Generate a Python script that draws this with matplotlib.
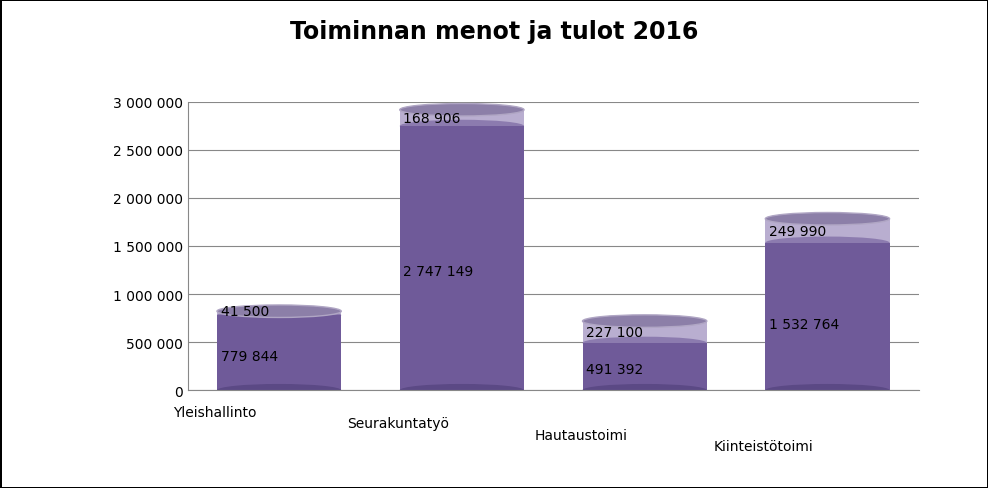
import matplotlib
matplotlib.use("Agg")
import matplotlib.pyplot as plt
from matplotlib.patches import Ellipse, Rectangle
import numpy as np

categories = ["Yleishallinto", "Seurakuntatyö", "Hautaustoimi", "Kiinteistötoimi"]
menot = [779844, 2747149, 491392, 1532764]
tulot = [41500, 168906, 227100, 249990]
menot_labels = ["779 844", "2 747 149", "491 392", "1 532 764"]
tulot_labels = ["41 500", "168 906", "227 100", "249 990"]
yticks = [0, 500000, 1000000, 1500000, 2000000, 2500000, 3000000]
ytick_labels = ["0", "500 000", "1 000 000", "1 500 000", "2 000 000", "2 500 000", "3 000 000"]

fig = plt.figure(figsize=(9.88, 4.89), dpi=100)
fig.patch.set_edgecolor("black")
fig.patch.set_linewidth(2)
ax = fig.add_axes([0.19, 0.2, 0.74, 0.59])
fig.suptitle("Toiminnan menot ja tulot 2016", fontsize=17, fontweight="bold", y=0.96)

x = np.arange(len(categories))
w = 0.68
eh = 130000
dark = "#6f5a99"
darkedge = "#5b4985"
light = "#b9aed0"
for i in range(len(categories)):
    m, t = menot[i], tulot[i]
    ax.add_patch(Rectangle((x[i] - w/2, 0), w, m, facecolor=dark, edgecolor="none", zorder=2))
    ax.add_patch(Ellipse((x[i], 0), w, eh, facecolor=darkedge, edgecolor="none", zorder=2))
    ax.add_patch(Rectangle((x[i] - w/2, m), w, t, facecolor=light, edgecolor="none", zorder=3))
    ax.add_patch(Ellipse((x[i], m), w, eh, facecolor=dark, edgecolor="none", zorder=3, alpha=0.6))
    ax.add_patch(Ellipse((x[i], m + t), w, eh, facecolor="#8c7fa8", edgecolor="#b0a6c4", zorder=4))
    ax.text(x[i] - w/2 + 0.02, m * 0.45, menot_labels[i], fontsize=10, va="center", zorder=5)
    ax.text(x[i] - w/2 + 0.02, m + t * 0.5 if t > 100000 else m + t, tulot_labels[i], fontsize=10, va="center", zorder=5)

ax.set_xlim(-0.5, 3.5)
ax.set_ylim(0, 3000000)
ax.set_yticks(yticks)
ax.set_yticklabels(ytick_labels, fontsize=10)
ax.set_xticks(x)
ax.set_xticklabels([])
for i, c in enumerate(categories):
    ax.text(x[i] - 0.35, -150000 - i * 120000, c, fontsize=10, ha="center", va="top")
ax.yaxis.grid(True, color="#888888", linewidth=0.8, zorder=0)
ax.set_axisbelow(True)
for s in ["top", "right"]:
    ax.spines[s].set_visible(False)
ax.spines["left"].set_color("#888888")
ax.spines["bottom"].set_color("#888888")
ax.tick_params(length=0)
fig.savefig("out.png", dpi=100, edgecolor=fig.get_edgecolor())
